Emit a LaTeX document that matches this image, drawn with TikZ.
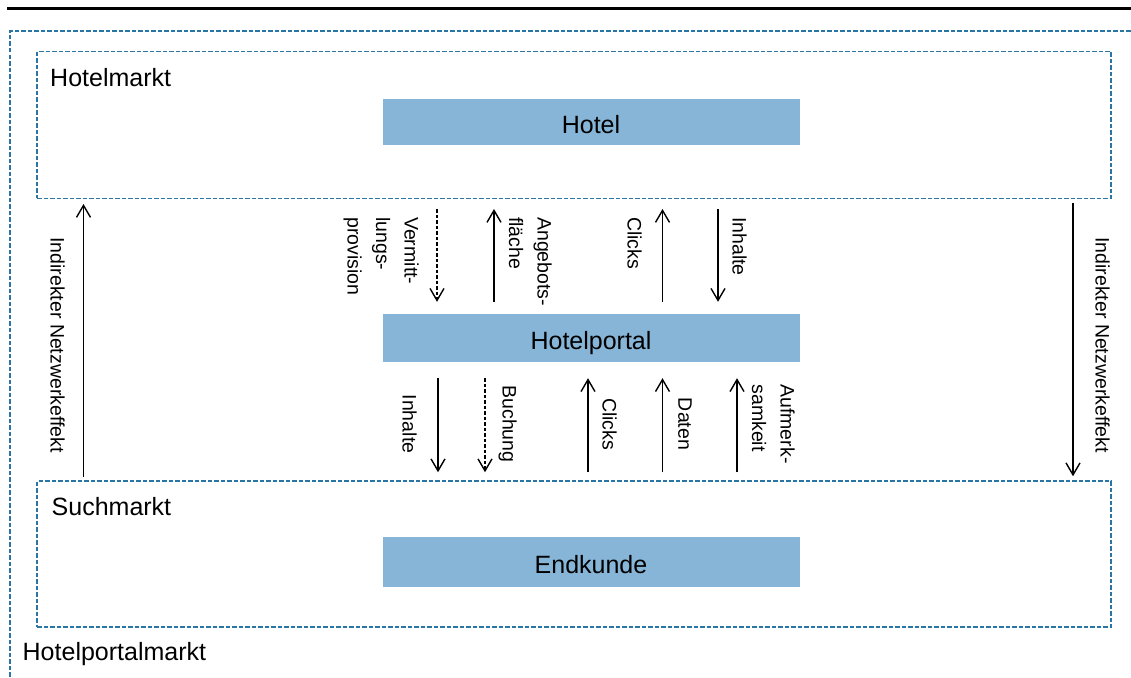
\documentclass[tikz,border=0pt]{standalone}
\usepackage{fontspec}
\setmainfont{Liberation Sans}
\usetikzlibrary{arrows.meta}
\definecolor{boxblue}{RGB}{135,181,215}
\definecolor{mktblue}{RGB}{41,117,164}
\begin{document}
\begin{tikzpicture}[x=1pt,y=-1pt,
        mkt/.style={draw=mktblue,line width=1.5pt,dash pattern=on 4.5pt off 2pt,inner sep=0pt},
        actor/.style={fill=boxblue,minimum width=417pt,inner sep=0pt,text height=23pt,text depth=0pt,font=\fontsize{25}{28}\selectfont},
        title/.style={anchor=base west,inner sep=0pt,font=\fontsize{25}{28}\selectfont},
        flow/.style={line width=1.4pt,-{Straight Barb[length=12pt,width=14pt]}},
        dflow/.style={flow,dash pattern=on 3.5pt off 2pt},
        lbl/.style={rotate=-90,inner sep=0pt,align=left,font=\fontsize{19.5}{28.5}\selectfont}]
        \clip (0,0) rectangle (1131,677);
        \draw[line width=3pt] (7,9)--(1131,9);
        \draw[mkt] (1150,31) -| (10,700);
        % markets
        \node[mkt,minimum width=1074pt,minimum height=146.5pt] (hm) at (574,125) {};
        \node[mkt,minimum width=1074pt,minimum height=146pt] (sm) at (574,554) {};
        \node[title] (hmname) at (50,86) {Hotelmarkt};
        \node[title] (smname) at (51.5,515) {Suchmarkt};
        \node[title] (hpmname) at (22.5,660) {Hotelportalmarkt};
        % actors
        \node[actor,minimum height=46pt] (hotel) at (591,121.5) {Hotel};
        \node[actor,minimum height=48pt] (portal) at (591,338) {Hotelportal};
        \node[actor,minimum height=49.5pt] (kunde) at (591,562) {Endkunde};
        % hotel <-> portal
        \draw[dflow,shorten <=10pt,shorten >=12pt] (hm.south -| 437,0)--(portal.north -| 437,0);
        \draw[flow,shorten <=12pt,shorten >=10pt] (portal.north -| 494,0)--(hm.south -| 494,0);
        \draw[flow,shorten <=12pt,shorten >=10pt] (portal.north -| 662.5,0)--(hm.south -| 662.5,0);
        \draw[flow,shorten <=10pt,shorten >=12pt] (hm.south -| 718,0)--(portal.north -| 718,0);
        \node[lbl,anchor=north west] (provision) at (419,217) {Vermitt-\\lungs-\\provision};
        \node[lbl,anchor=north west] (flaeche) at (552,217) {Angebots-\\fläche};
        \node[lbl,anchor=north west] (clicksup) at (642,217) {Clicks};
        \node[lbl,anchor=north west] (inhalteup) at (747,217) {Inhalte};
        % portal <-> kunde
        \draw[flow,shorten <=16pt,shorten >=8pt] (portal.south -| 438,0)--(sm.north -| 438,0);
        \draw[dflow,shorten <=16pt,shorten >=8pt] (portal.south -| 485,0)--(sm.north -| 485,0);
        \draw[flow,shorten <=8pt,shorten >=16pt] (sm.north -| 588,0)--(portal.south -| 588,0);
        \draw[flow,shorten <=8pt,shorten >=16pt] (sm.north -| 662.5,0)--(portal.south -| 662.5,0);
        \draw[flow,shorten <=8pt,shorten >=16pt] (sm.north -| 737,0)--(portal.south -| 737,0);
        \node[lbl,anchor=north] (inhaltedown) at (417,424) {Inhalte};
        \node[lbl,anchor=north] (buchung) at (517,424) {Buchung};
        \node[lbl,anchor=north] (clicksdown) at (617,424) {Clicks};
        \node[lbl,anchor=north] (daten) at (692,424) {Daten};
        \node[lbl,anchor=north] (aufmerk) at (795,424) {Aufmerk-\\samkeit};
        % network effects
        \draw[flow,shorten <=3pt,shorten >=5pt] (sm.north -| 83.5,0)--(hm.south -| 83.5,0);
        \draw[flow,shorten <=4pt,shorten >=4pt] (hm.south -| 1073,0)--(sm.north -| 1073,0);
        \node[lbl,anchor=north] (effleft) at (65,345) {Indirekter Netzwerkeffekt};
        \node[lbl,anchor=north] (effright) at (1110,345) {Indirekter Netzwerkeffekt};
    \end{tikzpicture}
\end{document}
